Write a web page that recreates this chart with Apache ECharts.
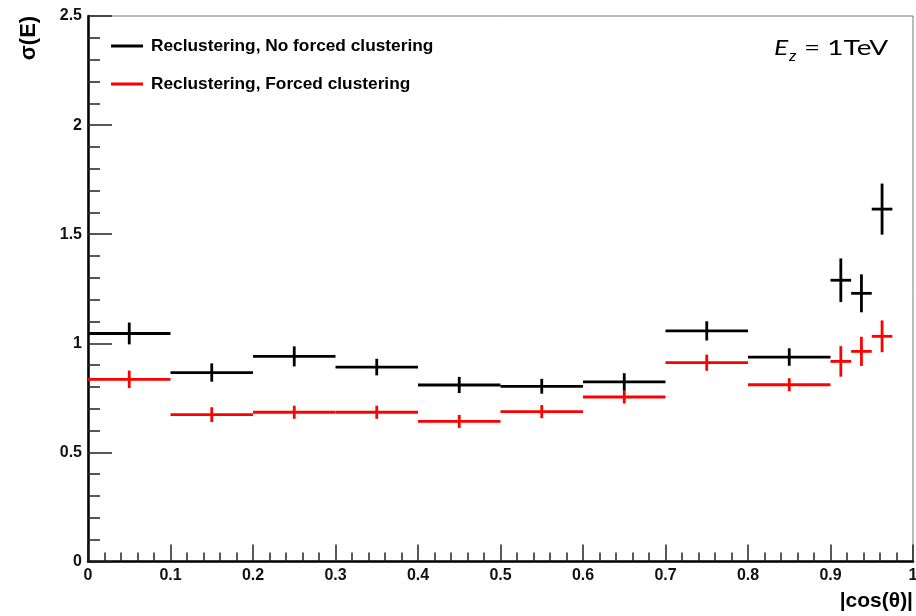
<!DOCTYPE html>
<html>
<head>
<meta charset="utf-8">
<script src="https://cdn.jsdelivr.net/npm/echarts@6/dist/echarts.min.js"></script>
<style>
html,body{margin:0;padding:0;background:#fff;}
#chart{width:916px;height:616px;}
</style>
</head>
<body>
<div id="chart"></div>
<script>
// Bin edges in |cos(theta)|
const binLow  = [0.0, 0.1, 0.2, 0.3, 0.4, 0.5, 0.6, 0.7, 0.8, 0.9, 0.925, 0.95];
const binHigh = [0.1, 0.2, 0.3, 0.4, 0.5, 0.6, 0.7, 0.8, 0.9, 0.925, 0.95, 0.975];
// Reclustering, No forced clustering
const noForcedVal = [1.045, 0.866, 0.940, 0.891, 0.809, 0.803, 0.823, 1.057, 0.937, 1.289, 1.229, 1.615];
const noForcedErr = [0.050, 0.042, 0.046, 0.038, 0.037, 0.034, 0.040, 0.044, 0.040, 0.100, 0.087, 0.117];
// Reclustering, Forced clustering
const forcedVal = [0.835, 0.673, 0.684, 0.684, 0.642, 0.687, 0.754, 0.911, 0.810, 0.917, 0.963, 1.032];
const forcedErr = [0.040, 0.034, 0.030, 0.030, 0.030, 0.030, 0.030, 0.037, 0.030, 0.070, 0.067, 0.073];

const seriesNames = ['Reclustering, No forced clustering', 'Reclustering, Forced clustering'];
const xTickLabels = ['0','0.1','0.2','0.3','0.4','0.5','0.6','0.7','0.8','0.9','1'];

function makeData(vals, errs) {
  return vals.map((v, i) => [binLow[i], binHigh[i], v, errs[i]]);
}

function errRender(color) {
  return function (params, api) {
    const x0 = api.value(0), x1 = api.value(1), y = api.value(2), e = api.value(3);
    const xc = (x0 + x1) / 2;
    const pL = api.coord([x0, y]);
    const pR = api.coord([x1, y]);
    const pT = api.coord([xc, y + e]);
    const pB = api.coord([xc, y - e]);
    return {
      type: 'group',
      children: [
        { type: 'line', shape: { x1: pL[0], y1: pL[1], x2: pR[0], y2: pR[1] },
          style: { stroke: color, lineWidth: 2.8 } },
        { type: 'line', shape: { x1: pT[0], y1: pT[1], x2: pB[0], y2: pB[1] },
          style: { stroke: color, lineWidth: 2.8 } }
      ]
    };
  };
}

const chart = echarts.init(document.getElementById('chart'), null, { renderer: 'canvas' });
const FONT = 'Liberation Sans';

chart.setOption({
  animation: false,
  backgroundColor: '#ffffff',
  grid: { left: 88, right: 3, top: 16, bottom: 54.5, show: true, borderColor: '#777', borderWidth: 1,
          containLabel: false, outerBoundsMode: 'none' },
  legend: {
    orient: 'vertical',
    left: 111, top: 37.5,
    padding: 0,
    itemGap: 21,
    itemWidth: 32, itemHeight: 3,
    icon: 'rect',
    data: seriesNames,
    textStyle: { fontFamily: FONT, fontWeight: 'bold', fontSize: 17.3, color: '#000', padding: [0, 0, 0, 3] }
  },
  xAxis: {
    type: 'value', min: 0, max: 1, interval: 0.1,
    name: '|cos(θ)|',
    nameLocation: 'end',
    nameGap: 0,
    nameTextStyle: { fontFamily: FONT, fontWeight: 'bold', fontSize: 21, color: '#000',
      align: 'right', verticalAlign: 'top', padding: [29, 0, 0, 0] },
    axisLine: { show: true, lineStyle: { color: '#000', width: 2.5 } },
    axisTick: { show: true, inside: true, length: 17, lineStyle: { color: '#222', width: 1.5 } },
    minorTick: { show: true, splitNumber: 5, length: 9, lineStyle: { color: '#222', width: 1.5 } },
    splitLine: { show: false },
    axisLabel: { margin: 6, fontFamily: FONT, fontWeight: 'bold', fontSize: 16, color: '#111',
      formatter: (v) => xTickLabels[Math.round(v * 10)] },
  },
  yAxis: {
    type: 'value', min: 0, max: 2.5, interval: 0.5,
    axisLine: { show: true, lineStyle: { color: '#000', width: 2.5 } },
    axisTick: { show: true, inside: true, length: 24, lineStyle: { color: '#222', width: 1.5 } },
    minorTick: { show: true, splitNumber: 5, length: 12, lineStyle: { color: '#222', width: 1.5 } },
    splitLine: { show: false },
    axisLabel: { margin: 6, fontFamily: FONT, fontWeight: 'bold', fontSize: 16, color: '#111' }
  },
  series: [
    { name: seriesNames[0], type: 'custom', renderItem: errRender('#000000'),
      itemStyle: { color: '#000000' }, encode: { x: [0, 1], y: [2, 3] },
      data: makeData(noForcedVal, noForcedErr), z: 3 },
    { name: seriesNames[1], type: 'custom', renderItem: errRender('#ff0000'),
      itemStyle: { color: '#ff0000' }, encode: { x: [0, 1], y: [2, 3] },
      data: makeData(forcedVal, forcedErr), z: 2 }
  ],
  graphic: [
    { type: 'text', x: 29, y: 38, rotation: Math.PI / 2,
      style: { text: 'σ(E)', fontFamily: FONT, fontWeight: 'bold', fontSize: 22, fill: '#000',
               align: 'center', verticalAlign: 'middle' } },
    { type: 'text', x: 774, y: 37, scaleX: 1.2,
      style: { text: 'E', fontFamily: 'Lato', fontStyle: 'italic', fontSize: 22, fill: '#000' } },
    { type: 'text', x: 789, y: 49, scaleX: 1.15,
      style: { text: 'z', fontFamily: 'Lato', fontStyle: 'italic', fontSize: 15, fill: '#000' } },
    { type: 'text', x: 804, y: 37, scaleX: 1.27,
      style: { text: '= 1TeV', fontFamily: 'Lato', fontSize: 22, fill: '#000' } }
  ]
});
</script>
</body>
</html>
